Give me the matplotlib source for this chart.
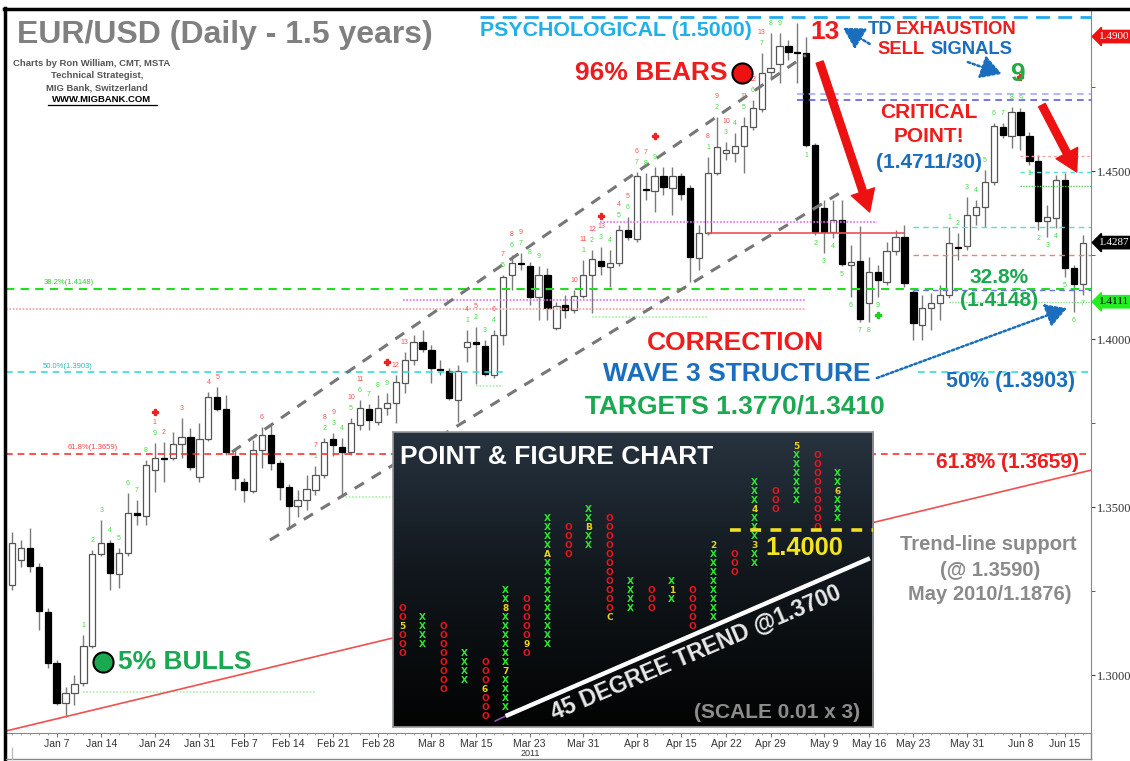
import numpy as np
import matplotlib
matplotlib.use('Agg')
import matplotlib.pyplot as plt
import matplotlib.transforms as mtransforms
from matplotlib.patches import FancyArrowPatch
from matplotlib.lines import Line2D
from matplotlib.colors import LinearSegmentedColormap

plt.rcParams['font.family'] = ['Liberation Sans', 'DejaVu Sans']

# EUR/USD daily candles
opens = [1.3268, 1.3342, 1.3378, 1.3322, 1.3187, 1.3036, 1.2917, 1.2947, 1.2977, 1.3086,
         1.3360, 1.3393, 1.3301, 1.3363, 1.3482, 1.3473, 1.3611, 1.3646, 1.3646, 1.3688,
         1.3708, 1.3590, 1.3703, 1.3828, 1.3792, 1.3652, 1.3575, 1.3548, 1.3670, 1.3715,
         1.3631, 1.3560, 1.3503, 1.3521, 1.3551, 1.3596, 1.3703, 1.3679, 1.3664, 1.3744,
         1.3792, 1.3753, 1.3795, 1.3810, 1.3869, 1.3937, 1.3991, 1.3967, 1.3911, 1.3905,
         1.3819, 1.3976, 1.3991, 1.3979, 1.3893, 1.4012, 1.4191, 1.4226, 1.4218, 1.4125,
         1.4191, 1.4033, 1.4101, 1.4086, 1.4128, 1.4191, 1.4232, 1.4214, 1.4226, 1.4325,
         1.4298, 1.4446, 1.4440, 1.4485, 1.4449, 1.4485, 1.4449, 1.4241, 1.4316, 1.4494,
         1.4553, 1.4553, 1.4574, 1.4631, 1.4684, 1.4795, 1.4819, 1.4872, 1.4854, 1.4851,
         1.4577, 1.4390, 1.4319, 1.4354, 1.4220, 1.4232, 1.4107, 1.4200, 1.4170, 1.4262,
         1.4304, 1.4140, 1.4042, 1.4092, 1.4107, 1.4131, 1.4274, 1.4277, 1.4369, 1.4393,
         1.4467, 1.4631, 1.4604, 1.4675, 1.4604, 1.4529, 1.4351, 1.4360, 1.4473, 1.4211,
         1.4164]
highs = [1.3426, 1.3402, 1.3438, 1.3334, 1.3199, 1.3045, 1.2965, 1.3000, 1.3119, 1.3372,
         1.3461, 1.3402, 1.3378, 1.3542, 1.3521, 1.3640, 1.3691, 1.3694, 1.3723, 1.3765,
         1.3735, 1.3750, 1.3842, 1.3858, 1.3834, 1.3670, 1.3587, 1.3700, 1.3738, 1.3744,
         1.3640, 1.3569, 1.3551, 1.3596, 1.3622, 1.3706, 1.3720, 1.3706, 1.3765, 1.3819,
         1.3807, 1.3834, 1.3840, 1.3893, 1.3961, 1.4012, 1.4027, 1.3982, 1.3937, 1.3914,
         1.3923, 1.4027, 1.4036, 1.3997, 1.4027, 1.4191, 1.4250, 1.4256, 1.4229, 1.4218,
         1.4211, 1.4110, 1.4131, 1.4146, 1.4235, 1.4265, 1.4274, 1.4265, 1.4340, 1.4363,
         1.4497, 1.4494, 1.4512, 1.4512, 1.4512, 1.4494, 1.4458, 1.4340, 1.4541, 1.4660,
         1.4586, 1.4613, 1.4660, 1.4711, 1.4851, 1.4911, 1.4911, 1.4890, 1.4941, 1.4899,
         1.4583, 1.4414, 1.4414, 1.4414, 1.4280, 1.4336, 1.4244, 1.4220, 1.4289, 1.4325,
         1.4339, 1.4146, 1.4131, 1.4137, 1.4161, 1.4333, 1.4316, 1.4423, 1.4414, 1.4503,
         1.4643, 1.4643, 1.4690, 1.4687, 1.4616, 1.4547, 1.4399, 1.4488, 1.4494, 1.4220,
         1.4310]
lows = [1.3253, 1.3322, 1.3307, 1.3134, 1.3021, 1.2911, 1.2875, 1.2911, 1.2968, 1.3080,
        1.3354, 1.3253, 1.3259, 1.3354, 1.3447, 1.3447, 1.3545, 1.3575, 1.3640, 1.3646,
        1.3611, 1.3575, 1.3697, 1.3786, 1.3655, 1.3551, 1.3515, 1.3542, 1.3616, 1.3611,
        1.3521, 1.3438, 1.3470, 1.3491, 1.3536, 1.3587, 1.3652, 1.3536, 1.3655, 1.3729,
        1.3729, 1.3744, 1.3774, 1.3750, 1.3839, 1.3923, 1.3961, 1.3869, 1.3893, 1.3819,
        1.3753, 1.3932, 1.3866, 1.3890, 1.3884, 1.3982, 1.4146, 1.4206, 1.4101, 1.4057,
        1.4057, 1.4027, 1.4063, 1.4077, 1.4122, 1.4077, 1.4191, 1.4155, 1.4218, 1.4295,
        1.4289, 1.4414, 1.4378, 1.4429, 1.4369, 1.4414, 1.4170, 1.4206, 1.4310, 1.4488,
        1.4533, 1.4527, 1.4494, 1.4622, 1.4676, 1.4771, 1.4762, 1.4830, 1.4762, 1.4571,
        1.4310, 1.4256, 1.4301, 1.4217, 1.4125, 1.4051, 1.4051, 1.4125, 1.4161, 1.4250,
        1.4155, 1.3997, 1.3997, 1.4027, 1.4057, 1.4122, 1.4235, 1.4265, 1.4339, 1.4333,
        1.4458, 1.4598, 1.4568, 1.4562, 1.4518, 1.4324, 1.4304, 1.4330, 1.4185, 1.4080,
        1.4131]
closes = [1.3393, 1.3378, 1.3325, 1.3190, 1.3036, 1.2917, 1.2947, 1.2974, 1.3086, 1.3360,
          1.3393, 1.3304, 1.3363, 1.3482, 1.3476, 1.3626, 1.3646, 1.3643, 1.3688, 1.3708,
          1.3619, 1.3703, 1.3828, 1.3792, 1.3664, 1.3587, 1.3551, 1.3670, 1.3715, 1.3631,
          1.3560, 1.3503, 1.3521, 1.3554, 1.3596, 1.3694, 1.3685, 1.3664, 1.3750, 1.3795,
          1.3759, 1.3795, 1.3810, 1.3872, 1.3937, 1.3991, 1.3970, 1.3914, 1.3908, 1.3825,
          1.3905, 1.3991, 1.3985, 1.3896, 1.4012, 1.4185, 1.4226, 1.4223, 1.4125, 1.4191,
          1.4092, 1.4098, 1.4086, 1.4128, 1.4191, 1.4238, 1.4218, 1.4226, 1.4325, 1.4304,
          1.4485, 1.4443, 1.4485, 1.4452, 1.4485, 1.4432, 1.4244, 1.4316, 1.4494, 1.4571,
          1.4562, 1.4574, 1.4634, 1.4687, 1.4792, 1.4807, 1.4872, 1.4854, 1.4851, 1.4577,
          1.4319, 1.4319, 1.4354, 1.4223, 1.4229, 1.4060, 1.4200, 1.4176, 1.4262, 1.4304,
          1.4167, 1.4048, 1.4092, 1.4107, 1.4131, 1.4286, 1.4271, 1.4369, 1.4393, 1.4467,
          1.4634, 1.4607, 1.4675, 1.4607, 1.4529, 1.4351, 1.4363, 1.4473, 1.4211, 1.4164,
          1.4286]

date_pos = [5, 10, 16, 21, 26, 31, 36, 41, 47, 52, 58, 64, 70, 75, 80, 85, 91, 96, 101, 107, 113, 118]
date_labels = ['Jan 7', 'Jan 14', 'Jan 24', 'Jan 31', 'Feb 7', 'Feb 14', 'Feb 21', 'Feb 28',
               'Mar 8', 'Mar 15', 'Mar 23', 'Mar 31', 'Apr 8', 'Apr 15', 'Apr 22', 'Apr 29',
               'May 9', 'May 16', 'May 23', 'May 31', 'Jun 8', 'Jun 15']

# TD sequential counts
td_green_idx = [8, 9, 10, 11, 12, 13, 14, 15, 16, 34, 35, 36, 37, 38, 39, 40, 41, 42,
                51, 52, 53, 54, 55, 56, 57, 58, 59, 64, 65, 66, 67, 68, 69, 70, 71, 72,
                78, 79, 80, 81, 82, 83, 84, 85, 86, 105, 106, 107, 108, 109, 110, 111, 112, 113]
td_green_num = [1, 2, 3, 4, 5, 6, 7, 8, 9] * 6
td_red_idx = [16, 17, 19, 22, 23, 28, 34, 35, 36, 38, 39, 43, 44, 51, 52, 54, 55, 56, 57,
              63, 64, 65, 66, 68, 69, 70, 71, 78, 79, 80, 82, 83, 84]
td_red_num = [1, 2, 3, 4, 5, 6, 7, 8, 9, 10, 11, 12, 13, 4, 5, 6, 7, 8, 9,
              10, 11, 12, 13, 4, 5, 6, 7, 8, 9, 10, 11, 12, 13]
td_low_idx = [89, 90, 91, 92, 93, 94, 95, 96, 97, 114, 115, 116, 117, 118, 119, 120]
td_low_num = [1, 2, 3, 4, 5, 6, 7, 8, 9, 1, 2, 3, 4, 5, 6, 7]
td_signal_idx = [16, 42, 66, 72, 86, 113]

# key levels
fib_382, fib_500, fib_618 = 1.4148, 1.3903, 1.3659
psych_level = 1.4958
critical_levels = [1.4730, 1.4711]
price_boxes = [1.4900, 1.4287, 1.4111]

# point & figure columns (box 0.01, row 0 = 1.19)
pf_kind = ['O', 'X', 'O', 'X', 'O', 'X', 'O', 'X', 'O', 'X', 'O',
           'X', 'O', 'X', 'O', 'X', 'O', 'X', 'O', 'X', 'O', 'X']
pf_bottom = [7, 8, 3, 4, 0, 1, 7, 8, 18, 19, 11, 12, 12, 13, 10, 11, 16, 17, 23, 24, 21, 22]
pf_top = [12, 11, 10, 7, 6, 14, 13, 22, 21, 23, 22, 15, 14, 15, 14, 19, 18, 26, 25, 30, 29, 27]
pf_months = {0: {10: '5'}, 4: {3: '6'}, 5: {12: '8', 5: '7'}, 6: {8: '9'}, 7: {18: 'A'},
             9: {21: 'B'}, 10: {11: 'C'}, 13: {14: '1'}, 15: {19: '2'},
             17: {23: '4', 19: '3'}, 19: {30: '5'}, 21: {25: '6'}}

W, H = 1130, 761
fig = plt.figure(figsize=(W / 100, H / 100), dpi=100)


def fx(x):
    return x / W


def fy(y):
    return 1 - y / H


def put(x, y, s, size, color, ha='left', **kw):
    fig.text(fx(x), fy(y), s, fontsize=size, color=color, ha=ha, va='center',
             fontweight='bold', **kw)


ax = fig.add_axes([fx(6), fy(733), fx(1091) - fx(6), fy(10) - fy(733)])
ax.set_xlim(-0.67, 120.9)
ax.set_ylim(1.2828, 1.4979)

o = np.array(opens)
h = np.array(highs)
l = np.array(lows)
c = np.array(closes)
x = np.arange(len(o))
up = c >= o
ax.vlines(x, l, h, color='#7a7a7a', lw=1, zorder=2)
body_lo = np.minimum(o, c)
body_h = np.maximum(np.abs(c - o), 0.0004)
ax.bar(x[up], body_h[up], bottom=body_lo[up], width=0.7, color='white',
       edgecolor='#555555', lw=0.9, zorder=3)
ax.bar(x[~up], body_h[~up], bottom=body_lo[~up], width=0.7, color='black',
       edgecolor='black', lw=0.9, zorder=3)

# levels
x0, x1 = -0.67, 120.9
ax.hlines(fib_382, x0, x1, color='#22dd22', lw=1.5, linestyles=(0, (4, 3)), zorder=4)
ax.hlines(fib_500, x0, 55, color='#33dddd', lw=1.2, linestyles=(0, (4, 3)), zorder=4)
ax.hlines(fib_500, 101.5, x1, color='#33dddd', lw=1.2, linestyles=(0, (4, 3)), zorder=4)
ax.hlines(fib_618, x0, x1, color='#ff3030', lw=1.2, linestyles=(0, (4, 3)), zorder=4)
ax.hlines(psych_level, 52.4, x1, color='#22aaee', lw=2, linestyles=(0, (5, 3)), zorder=4)
ax.hlines(critical_levels[0], 88, x1, color='#a8a8ff', lw=1.2, linestyles=(0, (4, 3)), zorder=4)
ax.hlines(critical_levels[1], 88, x1, color='#5c5ce0', lw=1.2, linestyles=(0, (4, 3)), zorder=4)
ax.hlines(1.4089, x0, 89, color='#f4a0a0', lw=1.2, linestyles=(0, (1, 1)), zorder=4)
ax.hlines(1.4116, 43.8, 89, color='#e070f0', lw=1.2, linestyles=(0, (1, 1)), zorder=4)
ax.hlines(1.4348, 65.9, 96.9, color='#e070f0', lw=1.2, linestyles=(0, (1, 1)), zorder=4)
ax.hlines(1.4316, 77.9, 100, color='#f05050', lw=1.2, zorder=4)
ax.hlines(1.4545, 113, x1, color='#f4a0a0', lw=1.0, linestyles=(0, (2, 2)), zorder=4)
ax.hlines(1.4497, 113, x1, color='#55dddd', lw=1.0, linestyles=(0, (3, 3)), zorder=4)
ax.hlines(1.4455, 113, x1, color='#55cc55', lw=1.0, linestyles=(0, (1, 1)), zorder=4)
ax.hlines(1.4333, 101, x1, color='#55dddd', lw=1.0, linestyles=(0, (4, 3)), zorder=4)
ax.hlines(1.4250, 101, x1, color='#f08080', lw=1.0, linestyles=(0, (4, 3)), zorder=4)
ax.hlines(1.4146, 101, x1, color='#7070e0', lw=1.0, linestyles=(0, (4, 3)), zorder=4)
ax.hlines(1.4110, 105, x1, color='#88dd88', lw=1.0, linestyles=(0, (1, 1)), zorder=4)
ax.hlines(1.2950, 8, 34, color='#aaf0aa', lw=1.2, linestyles=(0, (1, 1)), zorder=4)
ax.hlines(1.3530, 37, 43, color='#aaf0aa', lw=1.2, linestyles=(0, (1, 1)), zorder=4)
ax.hlines(1.3860, 52, 55, color='#aaf0aa', lw=1.2, linestyles=(0, (1, 1)), zorder=4)
ax.hlines(1.4066, 65, 77.9, color='#aaf0aa', lw=1.2, linestyles=(0, (1, 1)), zorder=4)

ax.text(3.5, fib_382 + 0.0015, '38.2%(1.4148)', fontsize=5.5, color='#33cc33', zorder=5)
ax.text(3.5, fib_500 + 0.0012, '50.0%(1.3903)', fontsize=5.5, color='#22bbbb', zorder=5)
ax.text(6.2, fib_618 + 0.0015, '61.8%(1.3659)', fontsize=5.5, color='#ff4444', zorder=5)

# channel and support
ax.plot([24.65, 88.96], [1.3664, 1.4845], color='#777777', lw=2.2, ls=(0, (3.5, 3)), zorder=4)
ax.plot([28.9, 93.33], [1.3402, 1.4444], color='#777777', lw=2.2, ls=(0, (3.5, 3)), zorder=4)
ax.plot([x0, x1], [1.2834, 1.3610], color='#f05050', lw=1.2, zorder=4)

# TD counts
for i, n in zip(td_green_idx, td_green_num):
    ax.text(i, h[i] + 0.0018, str(n), fontsize=5, color='#44dd44', ha='center', va='bottom', zorder=5)
for i, n in zip(td_red_idx, td_red_num):
    off = 0.0050 if i in td_green_idx else 0.0018
    ax.text(i, h[i] + off, str(n), fontsize=5, color='#ff5050', ha='center', va='bottom', zorder=5)
for i, n in zip(td_low_idx, td_low_num):
    ax.text(i, l[i] - 0.0015, str(n), fontsize=5, color='#44dd44', ha='center', va='top', zorder=5)
for i in td_signal_idx:
    ax.plot(i, h[i] + 0.0092, marker='P', ms=5, color='#ee2222', mec='#ee2222', zorder=5)
ax.plot(97, l[97] - 0.0052, marker='P', ms=5, color='#22cc22', zorder=5)

# arrows
for (a, b), (p, q) in [((90.5, 1.4824), (96.1, 1.4378)), ((115.4, 1.4696), (119.3, 1.4497))]:
    ax.add_patch(FancyArrowPatch((a, b), (p, q),
                                 arrowstyle='simple,head_length=1.1,head_width=1.25,tail_width=0.38',
                                 mutation_scale=14, color='#ee1111', zorder=6, shrinkA=0, shrinkB=0))
for (a, b), (p, q) in [((96.1, 1.4878), (93.1, 1.4926)), ((107.1, 1.4824), (110.9, 1.4789)),
                       ((96.9, 1.3884), (118.2, 1.4092))]:
    ax.annotate('', xy=(p, q), xytext=(a, b),
                arrowprops=dict(arrowstyle='-|>,head_length=0.7,head_width=0.4', color='#1a6ebd',
                                lw=1.8, linestyle=(0, (1, 1)), shrinkA=0, shrinkB=0,
                                mutation_scale=18), zorder=6)

ax.scatter([81.8], [1.4792], s=210, color='#ee1111', edgecolor='black', lw=1.5, zorder=6)
ax.scatter([10.2], [1.3039], s=210, color='#1aa850', edgecolor='black', lw=1.5, zorder=6)

# axes styling
for s in ['left', 'top']:
    ax.spines[s].set_visible(False)
for s in ['right', 'bottom']:
    ax.spines[s].set_color('#888888')
ax.yaxis.tick_right()
ax.set_yticks([1.30, 1.35, 1.40, 1.45])
ax.set_yticklabels(['1.3000', '1.3500', '1.4000', '1.4500'])
ax.set_yticks([1.325, 1.375, 1.425, 1.475], minor=True)
ax.tick_params(axis='y', which='both', length=3, color='#444444', labelsize=9,
               labelcolor='#333333', pad=1)
for t in ax.get_yticklabels():
    t.set_fontfamily(['Liberation Serif', 'DejaVu Serif'])
ax.set_xticks(date_pos)
ax.set_xticklabels(date_labels)
ax.set_xticks(x, minor=True)
ax.tick_params(axis='x', which='major', length=3, color='#777777', labelsize=7.5,
               labelcolor='#333333', pad=1)
ax.tick_params(axis='x', which='minor', length=1.5, color='#999999')
for t in ax.get_xticklabels():
    t.set_fontfamily(['Liberation Sans Narrow', 'Liberation Sans', 'DejaVu Sans'])

trans = mtransforms.blended_transform_factory(ax.transAxes, ax.transData)
for val, fc, tc in zip(price_boxes, ['#ee1111', 'black', '#22ee22'], ['white', 'white', 'black']):
    ax.text(1.0072, val, '%.4f' % val, transform=trans, fontsize=8, color=tc, va='center',
            ha='left', family=['Liberation Serif', 'DejaVu Serif'], clip_on=False,
            bbox=dict(boxstyle='larrow,pad=0.15', fc=fc, ec=fc))

# frame
fig.add_artist(Line2D([fx(4), 1], [fy(8.5), fy(8.5)], color='black', lw=2.5))
fig.add_artist(Line2D([fx(5), fx(5)], [fy(8), 0], color='black', lw=2.5))
fig.add_artist(Line2D([fx(1091), fx(1091)], [fy(733), fy(759)], color='#888888', lw=1))
fig.add_artist(Line2D([fx(6), fx(1091)], [fy(759), fy(759)], color='#888888', lw=1))
fig.add_artist(Line2D([fx(12), fx(12)], [fy(748), fy(759)], color='#bbbbbb', lw=1))
fig.text(fx(530), fy(753), '2011', fontsize=6.5, color='#333333', ha='center', va='center',
         family=['Liberation Sans Narrow', 'Liberation Sans'])

# annotations
red, blue, green, grey = '#ee1c1c', '#1a6ebd', '#1aa850', '#8a8a8a'
put(17, 35, 'EUR/USD (Daily - 1.5 years)', 23, '#808080')
put(13, 64, 'Charts by Ron William, CMT, MSTA', 6.8, '#555555')
put(97, 76, 'Technical Strategist,', 6.8, '#555555', ha='center')
put(97, 88, 'MIG Bank, Switzerland', 6.8, '#555555', ha='center')
put(102, 100, 'WWW.MIGBANK.COM', 6.8, 'black', ha='center')
fig.add_artist(Line2D([fx(48), fx(157)], [fy(105), fy(105)], color='black', lw=0.9))

put(480, 31, 'PSYCHOLOGICAL (1.5000)', 15.4, '#1fb0e8')
put(575, 73, '96% BEARS', 19, red)
put(810, 32, '13', 19, red)
put(868, 30, 'TD', 13.2, blue)
put(896, 30, 'EXHAUSTION', 13.2, red)
put(877, 50, 'SELL', 13.2, red)
put(930, 50, 'SIGNALS', 13.2, blue)
put(1017, 74, '9', 19, '#22aa44', ha='center')
put(929, 113, 'CRITICAL', 15, red, ha='center')
put(929, 137, 'POINT!', 15, red, ha='center')
put(929, 162, '(1.4711/30)', 15, blue, ha='center')
put(999, 277, '32.8%', 15, green, ha='center')
put(999, 301, '(1.4148)', 15, green, ha='center')
put(735, 343, 'CORRECTION', 19, red, ha='center')
put(737, 374, 'WAVE 3 STRUCTURE', 19, blue, ha='center')
put(735, 406, 'TARGETS 1.3770/1.3410', 19, green, ha='center')
put(1011, 381, '50% (1.3903)', 15.5, blue, ha='center')
put(1007, 463, '61.8% (1.3659)', 15, red, ha='center')
put(988, 545, 'Trend-line support', 14.5, grey, ha='center')
put(990, 570, '(@ 1.3590)', 14.5, grey, ha='center')
put(990, 594, 'May 2010/1.1876)', 14.5, grey, ha='center')
put(118, 662, '5% BULLS', 19, green)

# point & figure inset
pf = fig.add_axes([fx(393), fy(727), fx(873) - fx(393), fy(432) - fy(727)])
pxl, pxr, pyb, pyt = -0.43, 22.7, -1.22, 31.6
pf.set_xlim(pxl, pxr)
pf.set_ylim(pyb, pyt)
cmap = LinearSegmentedColormap.from_list('pf', ['#030303', '#10161b', '#27333f'])
pf.imshow(np.linspace(0, 1, 256).reshape(-1, 1), extent=(pxl, pxr, pyb, pyt), origin='lower',
          aspect='auto', cmap=cmap, zorder=0)
pf.set_xticks([])
pf.set_yticks([])
for s in pf.spines.values():
    s.set_color('#9a9a9a')
    s.set_linewidth(1.2)
for col, (kind, lo, hi) in enumerate(zip(pf_kind, pf_bottom, pf_top)):
    marks = pf_months.get(col, {})
    for r in range(lo, hi + 1):
        if r in marks:
            pf.text(col, r, marks[r], fontsize=6.5, color='#e8d21c', ha='center', va='center',
                    fontweight='bold', family='DejaVu Sans', zorder=2)
        else:
            pf.text(col, r, kind, fontsize=6.5, color='#2ee82e' if kind == 'X' else '#e8141e',
                    ha='center', va='center', fontweight='bold', family='DejaVu Sans', zorder=2)
pf.plot([4.5, 5], [-0.55, 0], color='#9050b0', lw=1.2, zorder=3)
pf.plot([5, 22.55], [0, 17.55], color='white', lw=3.2, zorder=3, solid_capstyle='butt')
pf.plot([15.8, pxr], [20.7, 20.7], color='#f0e020', lw=2.6, ls=(0, (3, 2.6)), zorder=3)
put(400, 457, 'POINT & FIGURE CHART', 19, 'white')
put(804, 548, '1.4000', 18.4, '#f4e41c', ha='center')
put(696, 653, '45 DEGREE TREND @1.3700', 16.6, '#e8e8e8', ha='center', rotation=23,
    rotation_mode='anchor')
put(777, 712, '(SCALE 0.01 x 3)', 15, '#8c8c8c', ha='center')

fig.savefig('out.png', dpi=100, facecolor='white')
